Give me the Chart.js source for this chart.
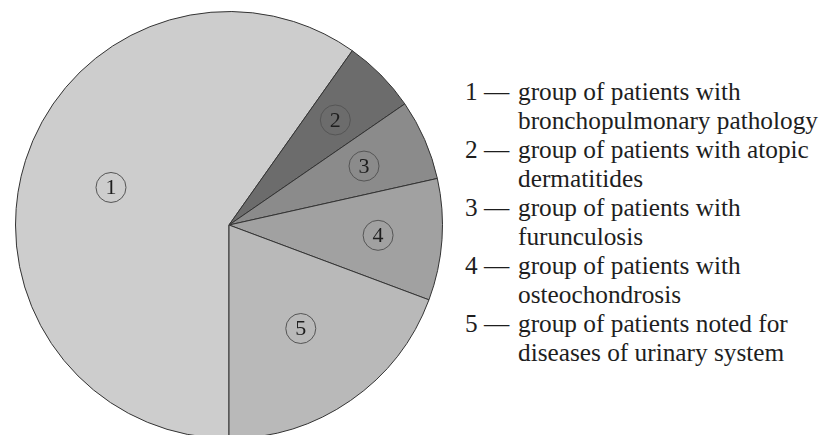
<!DOCTYPE html>
<html>
<head>
<meta charset="utf-8">
<script src="https://cdn.jsdelivr.net/npm/chart.js@4"></script>
<style>
    html, body {
        margin: 0;
        padding: 0;
        width: 820px;
        height: 435px;
        overflow: hidden;
        background: #fff;
    }
    .pie {
        position: absolute;
        left: 15px;
        top: 11px;
        width: 428px;
        height: 428px;
    }
    .legend {
        position: absolute;
        left: 465px;
        top: 77px;
        font-family: "Liberation Serif", "DejaVu Serif", "Times New Roman", Times, serif;
        font-size: 25.3px;
        line-height: 29px;
        color: #1e1e1e;
    }
    .legend .row {
        display: flex;
        white-space: nowrap;
    }
    .legend .num {
        width: 53px;
    }
</style>
</head>
<body>
<div class="pie">
    <canvas id="myChart" width="428" height="428"></canvas>
</div>
<div class="legend" id="legend"></div>
<script>
    // номера групп и подписи легенды
    const groups = ['1', '2', '3', '4', '5'];
    const labels = [
        ['group of patients with', 'bronchopulmonary pathology'],
        ['group of patients with atopic', 'dermatitides'],
        ['group of patients with', 'furunculosis'],
        ['group of patients with', 'osteochondrosis'],
        ['group of patients noted for', 'diseases of urinary system']
    ];
    // доли, %
    const shares = [59.8, 5.6, 6.1, 9.2, 19.3];

    const colors = ['#cdcdcd', '#6c6c6c', '#8b8b8b', '#a1a1a1', '#b9b9b9'];
    const labelRadius = [0.58, 0.7, 0.69, 0.7, 0.59];

    const legend = document.getElementById('legend');
    labels.forEach((lines, i) => {
        lines.forEach((line, j) => {
            const row = document.createElement('div');
            row.className = 'row';
            const num = document.createElement('span');
            num.className = 'num';
            num.textContent = j === 0 ? groups[i] + ' \u2014' : '';
            const txt = document.createElement('span');
            txt.textContent = line;
            row.appendChild(num);
            row.appendChild(txt);
            legend.appendChild(row);
        });
    });

    const circledNumbers = {
        id: 'circledNumbers',
        afterDatasetsDraw(chart) {
            const ctx = chart.ctx;
            const meta = chart.getDatasetMeta(0);
            meta.data.forEach((arc, i) => {
                const { x, y, startAngle, endAngle, outerRadius } = arc.getProps(['x', 'y', 'startAngle', 'endAngle', 'outerRadius'], true);
                const mid = (startAngle + endAngle) / 2;
                const r = outerRadius * labelRadius[i];
                const cx = x + Math.cos(mid) * r;
                const cy = y + Math.sin(mid) * r;
                ctx.save();
                ctx.beginPath();
                ctx.arc(cx, cy, 15, 0, Math.PI * 2);
                ctx.strokeStyle = '#555';
                ctx.lineWidth = 1;
                ctx.stroke();
                ctx.fillStyle = '#1e1e1e';
                ctx.font = '22px "Liberation Serif", "DejaVu Serif", serif';
                ctx.textAlign = 'center';
                ctx.textBaseline = 'middle';
                ctx.fillText(groups[i], cx, cy + 1);
                ctx.restore();
            });
        }
    };

    const ctx = document.getElementById('myChart').getContext('2d');
    const myChart = new Chart(ctx, {
        type: 'pie',
        data: {
            labels: groups,
            datasets: [{
                data: shares,
                backgroundColor: colors,
                borderColor: '#333',
                borderWidth: 1
            }]
        },
        options: {
            responsive: false,
            animation: false,
            events: [],
            rotation: 180, // начинаем снизу
            layout: { padding: 0 },
            plugins: {
                legend: { display: false },
                tooltip: { enabled: false }
            }
        },
        plugins: [circledNumbers]
    });
</script>
</body>
</html>
